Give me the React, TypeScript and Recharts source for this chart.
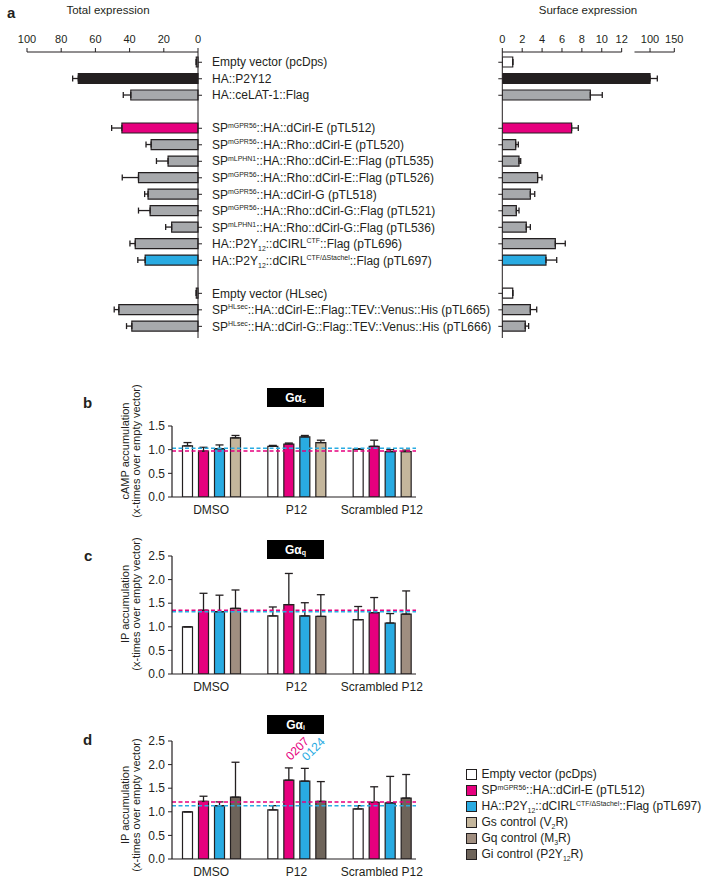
import {
  Bar,
  BarChart,
  Cell,
  ErrorBar,
  LabelList,
  ReferenceLine,
  XAxis,
  YAxis,
} from "recharts";

const FONT = '"Liberation Sans", Arial, sans-serif';
const INK = "#231f20";
const MAGENTA = "#e6007e";
const BLUE = "#29abe2";
const GRAY = "#a7a9ac";
const WHITE = "#ffffff";
const GS = "#c4b69c";
const GQ = "#a08e80";
const GI = "#6e645a";

// ---- panel a: expression of the constructs ----
const constructs = [
  "Empty vector (pcDps)",
  "HA::P2Y12",
  "HA::ceLAT-1::Flag",
  "SP^{mGPR56}::HA::dCirl-E (pTL512)",
  "SP^{mGPR56}::HA::Rho::dCirl-E (pTL520)",
  "SP^{mLPHN1}::HA::Rho::dCirl-E::Flag (pTL535)",
  "SP^{mGPR56}::HA::Rho::dCirl-E::Flag (pTL526)",
  "SP^{mGPR56}::HA::dCirl-G (pTL518)",
  "SP^{mGPR56}::HA::Rho::dCirl-G::Flag (pTL521)",
  "SP^{mLPHN1}::HA::Rho::dCirl-G::Flag (pTL536)",
  "HA::P2Y_{12}::dCIRL^{CTF}::Flag (pTL696)",
  "HA::P2Y_{12}::dCIRL^{CTF/ΔStachel}::Flag (pTL697)",
  "Empty vector (HLsec)",
  "SP^{HLsec}::HA::dCirl-E::Flag::TEV::Venus::His (pTL665)",
  "SP^{HLsec}::HA::dCirl-G::Flag::TEV::Venus::His (pTL666)",
];
const constructColors = [WHITE, INK, GRAY, MAGENTA, GRAY, GRAY, GRAY, GRAY, GRAY, GRAY, GRAY, BLUE, WHITE, GRAY, GRAY];
const groupStarts = [3, 12];
const totalExpression = [1, 70, 39.3, 44.5, 27.4, 17.5, 34.8, 29.2, 28, 15.4, 36.7, 30.9, 1, 46.3, 38.7];
const totalErrors = [0, 3.3, 4.4, 6, 3, 6.8, 9.5, 2, 6.8, 3.5, 3.1, 4.3, 0, 2.7, 3.1];
const surfaceExpression = [1.05, 100, 8.85, 6.97, 1.35, 1.68, 3.55, 2.82, 1.41, 2.41, 5.33, 4.39, 1.05, 2.82, 2.31];
const surfaceErrors = [0, 15, 1.2, 0.67, 0.26, 0.17, 0.44, 0.44, 0.27, 0.41, 1.0, 1.08, 0, 0.64, 0.34];
const totalTicks = [0, 20, 40, 60, 80, 100];
const surfaceTickValues = [0, 2, 4, 6, 8, 10, 12, 100, 150];

// broken surface axis: 0-12 linear, then a compressed 68-150 segment
const SEG_BREAK = 68;
const SEG_START = 13.29;
const SEG_SLOPE = 0.0488;
const surfacePos = (v: number) => (v <= 12 ? v : SEG_START + (v - SEG_BREAK) * SEG_SLOPE);
const SURFACE_MAX = surfacePos(150);
const SURFACE_PLOT_W = 172;

const rowsA = constructs.flatMap((label, i) => {
  const s = surfaceExpression[i];
  const row = {
    id: `c${i}`,
    label,
    color: constructColors[i],
    total: totalExpression[i] as number | null,
    totalErr: [0, totalErrors[i]] as number[] | null,
    surface: surfacePos(s) as number | null,
    surfaceErr: [0, surfacePos(s + surfaceErrors[i]) - surfacePos(s)] as number[] | null,
  };
  if (!groupStarts.includes(i)) return [row];
  const gap = { id: `gap${i}`, label: "", color: WHITE, total: null, totalErr: null, surface: null, surfaceErr: null };
  return [gap, row];
});

// ---- panels b-d: second messenger assays ----
const treatments = ["DMSO", "P12", "Scrambled P12"];

const gsEmpty = [1.08, 1.07, 1.01];
const gsEmptyErr = [0.07, 0.02, 0.01];
const gsDcirl = [0.97, 1.12, 1.07];
const gsDcirlErr = [0.08, 0.02, 0.13];
const gsChimera = [1.02, 1.27, 0.96];
const gsChimeraErr = [0.08, 0.03, 0.04];
const gsControl = [1.25, 1.15, 0.96];
const gsControlErr = [0.05, 0.05, 0.03];
const gsBaselines = [0.97, 1.03];

const gqEmpty = [1.0, 1.23, 1.15];
const gqEmptyErr = [0, 0.19, 0.28];
const gqDcirl = [1.35, 1.47, 1.3];
const gqDcirlErr = [0.36, 0.66, 0.32];
const gqChimera = [1.32, 1.23, 1.08];
const gqChimeraErr = [0.35, 0.28, 0.2];
const gqControl = [1.39, 1.22, 1.27];
const gqControlErr = [0.39, 0.46, 0.49];
const gqBaselines = [1.35, 1.32];

const giEmpty = [1.0, 1.04, 1.06];
const giEmptyErr = [0, 0.09, 0.07];
const giDcirl = [1.22, 1.67, 1.2];
const giDcirlErr = [0.11, 0.26, 0.33];
const giChimera = [1.13, 1.65, 1.19];
const giChimeraErr = [0.08, 0.27, 0.56];
const giControl = [1.31, 1.22, 1.29];
const giControlErr = [0.74, 0.42, 0.5];
const giBaselines = [1.21, 1.13];
const giDcirlP = ["", "0207", ""];
const giChimeraP = ["", "0124", ""];

const legendLabels = [
  "Empty vector (pcDps)",
  "SP^{mGPR56}::HA::dCirl-E (pTL512)",
  "HA::P2Y_{12}::dCIRL^{CTF/ΔStachel}::Flag (pTL697)",
  "Gs control (V_{2}R)",
  "Gq control (M_{3}R)",
  "Gi control (P2Y_{12}R)",
];
const legendColors = [WHITE, MAGENTA, BLUE, GS, GQ, GI];

function assayRows(
  empty: number[], emptyErr: number[],
  dcirl: number[], dcirlErr: number[],
  chim: number[], chimErr: number[],
  ctrl: number[], ctrlErr: number[],
  pDcirl?: string[], pChim?: string[],
) {
  return treatments.map((treatment, i) => ({
    treatment,
    empty: empty[i], emptyErr: [0, emptyErr[i]],
    dcirl: dcirl[i], dcirlErr: [0, dcirlErr[i]],
    chim: chim[i], chimErr: [0, chimErr[i]],
    ctrl: ctrl[i], ctrlErr: [0, ctrlErr[i]],
    pDcirl: pDcirl ? pDcirl[i] : "",
    pChim: pChim ? pChim[i] : "",
  }));
}

const gsRows = assayRows(gsEmpty, gsEmptyErr, gsDcirl, gsDcirlErr, gsChimera, gsChimeraErr, gsControl, gsControlErr);
const gqRows = assayRows(gqEmpty, gqEmptyErr, gqDcirl, gqDcirlErr, gqChimera, gqChimeraErr, gqControl, gqControlErr);
const giRows = assayRows(giEmpty, giEmptyErr, giDcirl, giDcirlErr, giChimera, giChimeraErr, giControl, giControlErr, giDcirlP, giChimeraP);

// "^{..}" superscript, "_{..}" subscript
const MARKUP = /(\^\{[^}]*\}|_\{[^}]*\})/;

function richSvg(label: string, size: number) {
  let shift = 0;
  return label.split(MARKUP).filter((p) => p !== "").map((part, i) => {
    let target = 0;
    let fs = size;
    let text = part;
    if (part.startsWith("^{")) {
      target = -size * 0.4;
      fs = size * 0.58;
      text = part.slice(2, -1);
    } else if (part.startsWith("_{")) {
      target = size * 0.28;
      fs = size * 0.58;
      text = part.slice(2, -1);
    }
    const dy = target - shift;
    shift = target;
    return (
      <tspan key={i} dy={dy} fontSize={fs}>
        {text}
      </tspan>
    );
  });
}

function richHtml(label: string) {
  return label.split(MARKUP).filter((p) => p !== "").map((part, i) => {
    if (part.startsWith("^{"))
      return <span key={i} style={{ fontSize: "0.58em", position: "relative", top: "-0.6em" }}>{part.slice(2, -1)}</span>;
    if (part.startsWith("_{"))
      return <span key={i} style={{ fontSize: "0.58em", position: "relative", top: "0.4em" }}>{part.slice(2, -1)}</span>;
    return <span key={i}>{part}</span>;
  });
}

function Txt({ x, y, size = 12, bold = false, anchor = "start", children }: any) {
  const tx = anchor === "middle" ? "-50%" : anchor === "end" ? "-100%" : "0";
  return (
    <div
      style={{
        position: "absolute",
        left: x,
        top: y,
        transform: `translate(${tx}, -50%)`,
        fontSize: size,
        fontWeight: bold ? 700 : 400,
        lineHeight: 1,
        whiteSpace: "nowrap",
      }}
    >
      {children}
    </div>
  );
}

function YTitle({ cx, cy, lines }: { cx: number; cy: number; lines: string[] }) {
  return (
    <div
      style={{
        position: "absolute",
        left: cx,
        top: cy,
        transform: "translate(-50%, -50%) rotate(-90deg)",
        fontSize: 11,
        lineHeight: "11px",
        textAlign: "center",
        whiteSpace: "nowrap",
      }}
    >
      {lines[0]}
      <br />
      {lines[1]}
    </div>
  );
}

function GTag({ x, y, sub }: { x: number; y: number; sub: string }) {
  return (
    <div
      style={{
        position: "absolute",
        left: x,
        top: y,
        width: 57,
        height: 19,
        background: "#000",
        color: "#fff",
        fontWeight: 700,
        fontSize: 12,
        display: "flex",
        alignItems: "center",
        justifyContent: "center",
      }}
    >
      Gα<span style={{ fontSize: 7, position: "relative", top: 3 }}>{sub}</span>
    </div>
  );
}

// ---- axis tick renderers ----
function TotalTick(props: any) {
  const { x, y, payload } = props;
  const axisY = y + 8;
  return (
    <g>
      <line x1={x} x2={x} y1={axisY - 4} y2={axisY} stroke={INK} />
      <text x={x} y={axisY - 9} textAnchor="middle" fontSize={11} fill={INK} fontFamily={FONT}>
        {payload.value}
      </text>
    </g>
  );
}

function SurfaceTick(props: any) {
  const { x, y, payload } = props;
  const axisY = y + 8;
  const k = SURFACE_PLOT_W / SURFACE_MAX;
  const v = surfaceTickValues.find((t) => Math.abs(surfacePos(t) - payload.value) < 1e-6) ?? 0;
  let segment = null;
  if (v === 0) segment = <line x1={x} x2={x + 12 * k} y1={axisY} y2={axisY} stroke={INK} />;
  if (v === 100)
    segment = (
      <line
        x1={x - (surfacePos(100) - SEG_START) * k}
        x2={x + (SURFACE_MAX - surfacePos(100)) * k}
        y1={axisY}
        y2={axisY}
        stroke={INK}
      />
    );
  return (
    <g>
      {segment}
      <line x1={x} x2={x} y1={axisY - 4} y2={axisY} stroke={INK} />
      <text x={x} y={axisY - 9} textAnchor="middle" fontSize={11} fill={INK} fontFamily={FONT}>
        {v}
      </text>
    </g>
  );
}

function RowLabelTick(props: any) {
  const { x, y, payload } = props;
  const row = rowsA.find((r) => r.id === payload.value);
  if (!row || !row.label) return <g />;
  return (
    <g>
      <line x1={x - 14} x2={x - 10} y1={y} y2={y} stroke={INK} />
      <text x={x} y={y + 4.2} fontSize={12} fill={INK} fontFamily={FONT}>
        {richSvg(row.label, 12)}
      </text>
    </g>
  );
}

function RowMarkTick(props: any) {
  const { x, y, payload } = props;
  const row = rowsA.find((r) => r.id === payload.value);
  if (!row || !row.label) return <g />;
  return <line x1={x} x2={x + 4} y1={y} y2={y} stroke={INK} />;
}

function TotalChart() {
  return (
    <BarChart
      width={500}
      height={340}
      data={rowsA}
      layout="vertical"
      margin={{ top: 20, right: 0, bottom: 2, left: 27 }}
      barSize={10}
    >
      <XAxis
        type="number"
        orientation="top"
        reversed
        domain={[0, 100]}
        ticks={totalTicks}
        interval={0}
        height={32}
        tickSize={4}
        tickMargin={4}
        tickLine={false}
        tick={TotalTick}
        axisLine={{ stroke: INK }}
      />
      <YAxis
        type="category"
        dataKey="id"
        orientation="right"
        width={302}
        padding={{ top: 2, bottom: 3.4 }}
        interval={0}
        tickSize={4}
        tickMargin={10}
        tickLine={false}
        tick={RowLabelTick}
        axisLine={{ stroke: INK }}
      />
      <Bar dataKey="total" stroke={INK} strokeWidth={1.2} isAnimationActive={false}>
        {rowsA.map((r) => (
          <Cell key={r.id} fill={r.color} />
        ))}
        <ErrorBar dataKey="totalErr" direction="x" width={3} stroke={INK} strokeWidth={1.3} />
      </Bar>
    </BarChart>
  );
}

function SurfaceChart() {
  return (
    <BarChart
      width={258}
      height={340}
      data={rowsA}
      layout="vertical"
      margin={{ top: 20, right: 53.7, bottom: 2, left: 24.3 }}
      barSize={10}
    >
      <XAxis
        type="number"
        orientation="top"
        domain={[0, SURFACE_MAX]}
        ticks={surfaceTickValues.map(surfacePos)}
        interval={0}
        height={32}
        tickSize={4}
        tickMargin={4}
        tickLine={false}
        axisLine={false}
        tick={SurfaceTick}
        allowDataOverflow
      />
      <YAxis
        type="category"
        dataKey="id"
        width={8}
        padding={{ top: 2, bottom: 3.4 }}
        interval={0}
        tickSize={4}
        tickMargin={0}
        tickLine={false}
        tick={RowMarkTick}
        axisLine={{ stroke: INK }}
      />
      <Bar dataKey="surface" stroke={INK} strokeWidth={1.2} isAnimationActive={false}>
        {rowsA.map((r) => (
          <Cell key={r.id} fill={r.color} />
        ))}
        <ErrorBar dataKey="surfaceErr" direction="x" width={3} stroke={INK} strokeWidth={1.3} />
      </Bar>
    </BarChart>
  );
}

function pValueLabel(color: string, valueKey: "dcirl" | "chim", errKey: "dcirlErr" | "chimErr", rows: any[]) {
  return (props: any) => {
    const { value, index } = props;
    if (!value) return null;
    const vb = props.viewBox && props.viewBox.width != null ? props.viewBox : props;
    const { x, y, width, height } = vb;
    const row = props.payload && props.payload.treatment ? props.payload : rows[index];
    const perUnit = height / row[valueKey];
    const errTop = y - row[errKey][1] * perUnit;
    const tx = x + width / 2 + 2;
    const ty = errTop - 7;
    return (
      <text x={tx} y={ty} transform={`rotate(-45 ${tx} ${ty})`} fill={color} fontSize={12} fontFamily={FONT}>
        {value}
      </text>
    );
  };
}

function AssayChart({
  rows,
  top,
  height,
  marginTop,
  yMax,
  yTicks,
  controlColor,
  baselines,
  annotate = false,
}: {
  rows: any[];
  top: number;
  height: number;
  marginTop: number;
  yMax: number;
  yTicks: number[];
  controlColor: string;
  baselines: number[];
  annotate?: boolean;
}) {
  return (
    <div style={{ position: "absolute", left: 60, top }}>
      <BarChart
        width={380}
        height={height}
        data={rows}
        margin={{ top: marginTop, right: 24, bottom: 0, left: 72 }}
        barSize={10}
        barGap={6}
      >
        <XAxis
          dataKey="treatment"
          type="category"
          padding={{ left: -3.5, right: -8.5 }}
          height={30}
          interval={0}
          tickLine={false}
          axisLine={{ stroke: INK, strokeWidth: 1.2 }}
          tick={{ fontSize: 12, fill: INK, fontFamily: FONT }}
        />
        <YAxis
          type="number"
          domain={[0, yMax]}
          ticks={yTicks}
          interval={0}
          width={40}
          tickSize={4}
          tickMargin={3}
          allowDataOverflow
          tickFormatter={(v: number) => v.toFixed(1)}
          tick={{ fontSize: 12, fill: INK, fontFamily: FONT }}
          tickLine={{ stroke: INK }}
          axisLine={{ stroke: INK, strokeWidth: 1.2 }}
        />
        <Bar dataKey="empty" fill={WHITE} stroke={INK} strokeWidth={1.2} isAnimationActive={false}>
          <ErrorBar dataKey="emptyErr" direction="y" width={4} stroke={INK} strokeWidth={1.3} />
        </Bar>
        <Bar dataKey="dcirl" fill={MAGENTA} stroke={INK} strokeWidth={1.2} isAnimationActive={false}>
          <ErrorBar dataKey="dcirlErr" direction="y" width={4} stroke={INK} strokeWidth={1.3} />
          {annotate && <LabelList dataKey="pDcirl" content={pValueLabel(MAGENTA, "dcirl", "dcirlErr", rows)} />}
        </Bar>
        <Bar dataKey="chim" fill={BLUE} stroke={INK} strokeWidth={1.2} isAnimationActive={false}>
          <ErrorBar dataKey="chimErr" direction="y" width={4} stroke={INK} strokeWidth={1.3} />
          {annotate && <LabelList dataKey="pChim" content={pValueLabel(BLUE, "chim", "chimErr", rows)} />}
        </Bar>
        <Bar dataKey="ctrl" fill={controlColor} stroke={INK} strokeWidth={1.2} isAnimationActive={false}>
          <ErrorBar dataKey="ctrlErr" direction="y" width={4} stroke={INK} strokeWidth={1.3} />
        </Bar>
        <ReferenceLine y={baselines[1]} stroke={BLUE} strokeWidth={1.5} strokeDasharray="4 2.5" />
        <ReferenceLine y={baselines[0]} stroke={MAGENTA} strokeWidth={1.5} strokeDasharray="4 2.5" />
      </BarChart>
    </div>
  );
}

function LegendBlock() {
  return (
    <>
      {legendLabels.map((label, i) => {
        const cy = 774 + i * 16;
        return (
          <div key={label}>
            <div
              style={{
                position: "absolute",
                left: 465.5,
                top: cy - 5.5,
                width: 9,
                height: 9,
                background: legendColors[i],
                border: `1.2px solid ${INK}`,
              }}
            />
            <Txt x={481.5} y={cy} size={12}>
              {richHtml(label)}
            </Txt>
          </div>
        );
      })}
    </>
  );
}

export default function App() {
  const yLines = (first: string) => [first, "(x-times over empty vector)"];
  return (
    <div
      style={{
        position: "absolute",
        left: 0,
        top: 0,
        width: 728,
        height: 883,
        overflow: "hidden",
        background: "#fff",
        fontFamily: FONT,
        color: INK,
      }}
    >
      <div style={{ position: "absolute", left: 0, top: 0 }}>
        <TotalChart />
      </div>
      <div style={{ position: "absolute", left: 470, top: 0 }}>
        <SurfaceChart />
      </div>
      <Txt x={7} y={12} size={15} bold>
        a
      </Txt>
      <Txt x={108} y={11} size={11.5} anchor="middle">
        Total expression
      </Txt>
      <Txt x={588} y={11} size={11.5} anchor="middle">
        Surface expression
      </Txt>

      <AssayChart rows={gsRows} top={380} height={147} marginTop={46} yMax={1.5} yTicks={[0, 0.5, 1, 1.5]} controlColor={GS} baselines={gsBaselines} />
      <AssayChart rows={gqRows} top={530} height={174} marginTop={26} yMax={2.5} yTicks={[0, 0.5, 1, 1.5, 2, 2.5]} controlColor={GQ} baselines={gqBaselines} />
      <AssayChart rows={giRows} top={715} height={174} marginTop={26} yMax={2.5} yTicks={[0, 0.5, 1, 1.5, 2, 2.5]} controlColor={GI} baselines={giBaselines} annotate />

      <Txt x={83} y={402} size={15} bold>
        b
      </Txt>
      <Txt x={84} y={555} size={15} bold>
        c
      </Txt>
      <Txt x={83} y={739} size={15} bold>
        d
      </Txt>
      <YTitle cx={130.5} cy={450.5} lines={yLines("cAMP accumulation")} />
      <YTitle cx={130.5} cy={604} lines={yLines("IP accumulation")} />
      <YTitle cx={130.5} cy={805} lines={yLines("IP accumulation")} />
      <GTag x={267} y={388} sub="s" />
      <GTag x={267} y={540} sub="q" />
      <GTag x={267} y={715} sub="i" />
      <LegendBlock />
    </div>
  );
}
